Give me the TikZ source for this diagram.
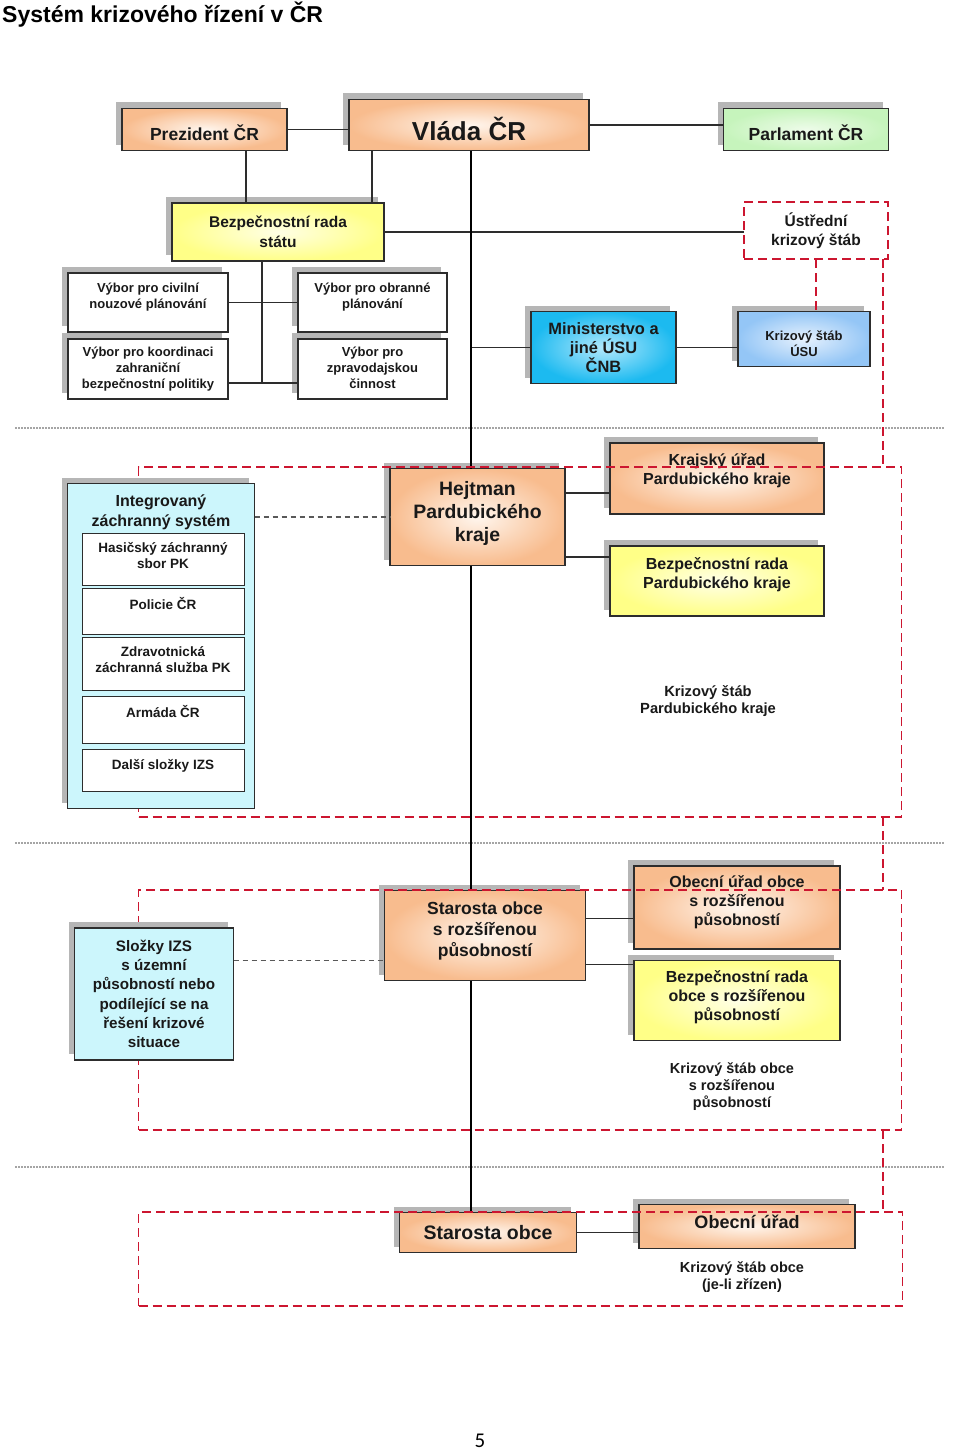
\documentclass[tikz,border=0pt]{standalone}
\usepackage{fontspec}
\setmainfont{Liberation Sans}
\newfontfamily\pagenumfont{Carlito}
\usepackage{tikz}
\usetikzlibrary{shadows, positioning}
\definecolor{boxedge}{RGB}{45,45,45}
\definecolor{orangeout}{RGB}{248,188,142}
\definecolor{orangein}{RGB}{255,246,238}
\definecolor{yellowout}{RGB}{255,255,135}
\definecolor{yellowin}{RGB}{255,255,230}
\definecolor{greenout}{RGB}{198,244,188}
\definecolor{greenin}{RGB}{238,252,234}
\definecolor{blueout}{RGB}{28,186,240}
\definecolor{bluein}{RGB}{178,232,252}
\definecolor{paleout}{RGB}{148,198,246}
\definecolor{palein}{RGB}{230,241,253}
\definecolor{izsfill}{RGB}{204,246,252}
\definecolor{zonered}{RGB}{204,22,48}
\definecolor{sepgray}{RGB}{165,165,165}
\definecolor{shadowgray}{RGB}{182,182,182}
\newcommand{\fsz}[2]{\fontsize{#1}{#2}\selectfont\bfseries}
\tikzset{
    box/.style={draw=boxedge, line width=1.3pt, rectangle, inner sep=0pt, outer sep=0pt,
        align=center, text=black!90,
        general shadow={fill=shadowgray, shadow xshift=-6pt, shadow yshift=6pt}},
    orangebox/.style={box, inner color=orangein, outer color=orangeout},
    yellowbox/.style={box, inner color=yellowin, outer color=yellowout},
    greenbox/.style={box, inner color=greenin, outer color=greenout},
    bluebox/.style={box, inner color=bluein, outer color=blueout},
    palebox/.style={box, inner color=palein, outer color=paleout},
    whitebox/.style={box, fill=white},
    izsbox/.style={box, fill=izsfill},
    izsitem/.style={draw=boxedge, line width=1pt, fill=white, inner sep=0pt, outer sep=0pt,
        minimum width=162pt},
    toptext/.style={anchor=north, align=center, inner sep=0pt, text=black!90},
    zone/.style={draw=zonered, line width=1.8pt, dash pattern=on 9pt off 5pt,
        inner sep=0pt, outer sep=0pt},
    link/.style={draw=boxedge, line width=1.3pt},
    spine/.style={draw=black, line width=2pt},
    softlink/.style={draw=black!65, line width=1.1pt, dash pattern=on 5pt off 4pt},
    separator/.style={draw=sepgray, line width=2pt, dash pattern=on 1.5pt off 1.5pt},
    plaintext/.style={align=center, text=black!90, inner sep=0pt},
}
\begin{document}
\begin{tikzpicture}[x=1pt, y=-1pt]
    \fill[white] (0,0) rectangle (960,1453);
    \useasboundingbox (0,0) rectangle (960,1453);

    \node[anchor=base west, inner sep=0pt, text=black, font=\fsz{23}{27}] (title) at (2,23)
        {Systém krizového řízení v ČR};

    % level separators
    \foreach \sy in {428,843,1167}
        \draw[separator] (15,\sy) -- (945,\sy);

    % state level
    \node[orangebox, minimum width=165pt, minimum height=42pt, text height=21.5pt, text depth=0pt,
        font=\fsz{17.5}{21}] (prezident) at (204.5,129.5) {Prezident ČR};
    \node[orangebox, minimum width=240pt, minimum height=51pt, text height=30pt, text depth=0pt,
        font=\fsz{26}{30}] (vlada) at (469,125) {Vláda ČR};
    \node[greenbox, minimum width=165pt, minimum height=42pt, text height=22.5pt, text depth=0pt,
        font=\fsz{17.5}{21}] (parlament) at (806,129.5) {Parlament ČR};
    \node[yellowbox, minimum width=212pt, minimum height=58pt, font=\fsz{15.5}{20}] (brstatu)
        at (278,232) {Bezpečnostní rada\\státu};
    \node[zone, minimum width=144pt, minimum height=57pt, align=center, text=black!90,
        font=\fsz{15.5}{19}] (uks) at (816,230.5) {Ústřední\\krizový štáb};

    \node[whitebox, minimum width=160pt, minimum height=59pt,
        label={[toptext, yshift=-10pt, font=\fsz{13}{16}]north:{Výbor pro civilní\\nouzové plánování}}]
        (vcivil) at (148,302.5) {};
    \node[whitebox, minimum width=149pt, minimum height=59pt,
        label={[toptext, yshift=-10pt, font=\fsz{13}{16}]north:{Výbor pro obranné\\plánování}}]
        (vobrana) at (372.5,302.5) {};
    \node[whitebox, minimum width=160pt, minimum height=60pt,
        label={[toptext, yshift=-8pt, font=\fsz{13}{16}]north:{Výbor pro koordinaci\\zahraniční\\bezpečnostní politiky}}]
        (vkoord) at (148,369) {};
    \node[whitebox, minimum width=149pt, minimum height=60pt,
        label={[toptext, yshift=-8pt, font=\fsz{13}{16}]north:{Výbor pro\\zpravodajskou\\činnost}}]
        (vzprav) at (372.5,369) {};

    \node[bluebox, minimum width=145pt, minimum height=72pt, font=\fsz{16.4}{19}] (ministr)
        at (603.5,347.5) {Ministerstvo a\\jiné ÚSU\\ČNB};
    \node[palebox, minimum width=132pt, minimum height=55pt,
        label={[toptext, yshift=-19pt, font=\fsz{13}{16}]north:{Krizový štáb\\ÚSU}}]
        (ksusu) at (804,339) {};

    % region level
    \node[orangebox, minimum width=175pt, minimum height=97pt,
        label={[toptext, yshift=-13pt, font=\fsz{19.4}{23}]north:{Hejtman\\Pardubického\\kraje}}]
        (hejtman) at (477.5,517) {};
    \node[orangebox, minimum width=214pt, minimum height=71pt,
        label={[toptext, yshift=-10pt, font=\fsz{16}{19}]north:{Krajský úřad\\Pardubického kraje}}]
        (krurad) at (717,478.5) {};
    \node[yellowbox, minimum width=214pt, minimum height=70pt,
        label={[toptext, yshift=-11pt, font=\fsz{16}{19}]north:{Bezpečnostní rada\\Pardubického kraje}}]
        (brpk) at (717,581) {};

    % municipal level with extended powers
    \node[orangebox, minimum width=201pt, minimum height=90pt,
        label={[toptext, yshift=-11pt, font=\fsz{17.5}{21}]north:{Starosta obce\\s rozšířenou\\působností}}]
        (starorp) at (485,935.5) {};
    \node[orangebox, minimum width=206pt, minimum height=83pt,
        label={[toptext, yshift=-9pt, font=\fsz{16}{19}]north:{Obecní úřad obce\\s rozšířenou\\působností}}]
        (obecorp) at (737,907.5) {};
    \node[yellowbox, minimum width=206pt, minimum height=80pt,
        label={[toptext, yshift=-10pt, font=\fsz{16}{19}]north:{Bezpečnostní rada\\obce s rozšířenou\\působností}}]
        (brorp) at (737,1000.5) {};

    % municipal level
    \node[orangebox, minimum width=177pt, minimum height=40pt, font=\fsz{19.5}{23}] (starosta)
        at (488,1232.5) {Starosta obce};
    \node[orangebox, minimum width=216pt, minimum height=44pt,
        label={[toptext, yshift=-10pt, font=\fsz{18}{21}]north:{Obecní úřad}}]
        (obecurad) at (747,1226.5) {};

    % connectors
    \coordinate (spinex) at (471,0);
    \coordinate (vyborx) at (262,0);
    \coordinate (redx) at (883,0);
    \coordinate (presdrop) at ([xshift=41.5pt]prezident.south);
    \coordinate (vladadrop) at ([xshift=23pt]vlada.south west);
    \coordinate (koordlink) at ([yshift=-14pt]vkoord.east);
    \draw[link] (prezident.east) -- (prezident.east -| vlada.west);
    \draw[link] (vlada.east) -- (vlada.east -| parlament.west);
    \draw[link] (presdrop) -- (presdrop |- brstatu.north);
    \draw[link] (vladadrop) -- (vladadrop |- brstatu.north);
    \draw[link] (brstatu.east) -- (brstatu.east -| uks.west);
    \draw[link] (vyborx |- brstatu.south) -- (vyborx |- koordlink);
    \draw[link] (vcivil.east) -- (vcivil.east -| vobrana.west);
    \draw[link] (koordlink) -- (koordlink -| vzprav.west);
    \draw[link] (spinex |- ministr.west) -- (ministr.west);
    \draw[link] (ministr.east) -- (ministr.east -| ksusu.west);
    \draw[link] ([yshift=24pt]hejtman.east) -- ([yshift=24pt]hejtman.east -| krurad.west);
    \draw[link] ([yshift=-40pt]hejtman.east) -- ([yshift=-40pt]hejtman.east -| brpk.west);
    \draw[link] ([yshift=17pt]starorp.east) -- ([yshift=17pt]starorp.east -| obecorp.west);
    \draw[link] ([yshift=-29pt]starorp.east) -- ([yshift=-29pt]starorp.east -| brorp.west);
    \draw[link] (starosta.east) -- (starosta.east -| obecurad.west);
    \draw[spine] (spinex |- vlada.south) -- (spinex |- hejtman.north);
    \draw[spine] (spinex |- hejtman.south) -- (spinex |- starorp.north);
    \draw[spine] (spinex |- starorp.south) -- (spinex |- starosta.north);

    % crisis staff zones
    \node[zone, minimum width=763pt, minimum height=350pt] (krajzone) at (520,642) {};
    \node[zone, minimum width=763pt, minimum height=240pt] (orpzone) at (520,1010) {};
    \node[zone, minimum width=764pt, minimum height=94pt] (obeczone) at (520.5,1259) {};
    \draw[zone] (uks.south) -- (uks.south |- ksusu.north);
    \draw[zone] (redx |- uks.south) -- (redx |- krajzone.north);
    \draw[zone] (redx |- krajzone.south) -- (redx |- orpzone.north);
    \draw[zone] (redx |- orpzone.south) -- (redx |- obeczone.north);

    \node[plaintext, font=\fsz{14.7}{17}] (kspk) at (708,701.5) {Krizový štáb\\Pardubického kraje};
    \node[plaintext, font=\fsz{14.5}{17}] (ksorp) at (732,1087) {Krizový štáb obce\\s rozšířenou\\působností};
    \node[plaintext, font=\fsz{14.5}{17}] (ksobec) at (742,1277) {Krizový štáb obce\\(je-li zřízen)};

    % integrated rescue system
    \node[izsbox, minimum width=187pt, minimum height=325pt,
        label={[toptext, yshift=-11pt, font=\fsz{16}{20}]north:{Integrovaný\\záchranný systém}}]
        (izs) at (161,646) {};
    \node[izsitem, minimum height=52pt,
        label={[toptext, yshift=-9pt, font=\fsz{13.5}{16}]north:{Hasičský záchranný\\sbor PK}}]
        (hzs) at (163,559) {};
    \node[izsitem, minimum height=46pt,
        label={[toptext, yshift=-9pt, font=\fsz{13.5}{16}]north:{Policie ČR}}]
        (policie) at (163,611) {};
    \node[izsitem, minimum height=53pt,
        label={[toptext, yshift=-9pt, font=\fsz{13.5}{16}]north:{Zdravotnická\\záchranná služba PK}}]
        (zzs) at (163,663.5) {};
    \node[izsitem, minimum height=47pt,
        label={[toptext, yshift=-9pt, font=\fsz{13.5}{16}]north:{Armáda ČR}}]
        (armada) at (163,720) {};
    \node[izsitem, minimum height=42pt,
        label={[toptext, yshift=-10pt, font=\fsz{13.5}{16}]north:{Další složky IZS}}]
        (dalsi) at (163,770) {};
    \node[izsbox, minimum width=159pt, minimum height=132pt, font=\fsz{15.2}{19.3}] (slozky)
        at (154,994) {Složky IZS\\s územní\\působností nebo\\podílející se na\\řešení krizové\\situace};
    \draw[softlink] (izs.east |- hejtman.west) -- (hejtman.west);
    \draw[softlink] ([yshift=-25pt]starorp.west -| slozky.east) -- ([yshift=-25pt]starorp.west);

    \node[inner sep=0pt, text=black, font=\pagenumfont\fontsize{21}{24}\selectfont] (pageno)
        at (480,1441) {5};
\end{tikzpicture}
\end{document}
